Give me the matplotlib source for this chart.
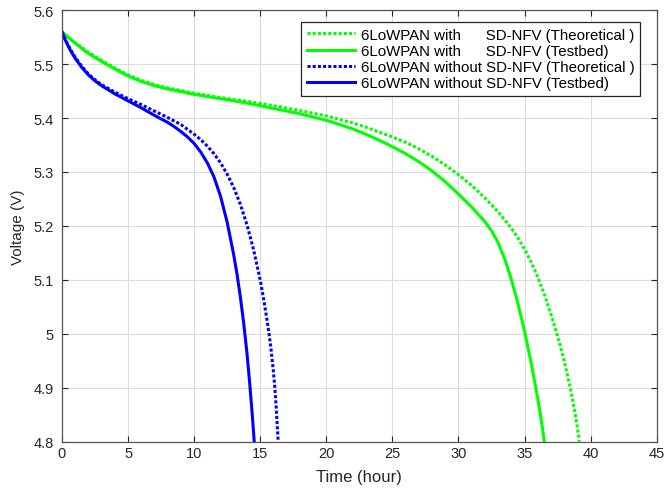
import matplotlib
matplotlib.use("Agg")
import matplotlib.pyplot as plt

plt.rcParams['font.family'] = ['Liberation Sans', 'DejaVu Sans']

# 6LoWPAN with SD-NFV (Theoretical)
t_with_theo = [0, 0.5, 1, 1.5, 2, 3, 4, 5, 6, 7, 8, 9, 10, 12, 14, 16, 18, 20, 22, 23, 24, 25,
               26, 27, 28, 29, 30, 31, 32, 33, 34, 34.5, 35, 35.5, 36, 36.5, 37, 37.5, 38,
               38.5, 38.8, 39.0, 39.15]
v_with_theo = [5.56, 5.55, 5.54, 5.531, 5.522, 5.507, 5.493, 5.48, 5.47, 5.462, 5.456, 5.451,
               5.446, 5.438, 5.431, 5.423, 5.414, 5.404, 5.391, 5.383, 5.374, 5.365,
               5.355, 5.343, 5.329, 5.313, 5.295, 5.275, 5.252, 5.226, 5.196, 5.178, 5.157,
               5.133, 5.105, 5.073, 5.036, 4.996, 4.95, 4.895, 4.856, 4.826, 4.80]

# 6LoWPAN with SD-NFV (Testbed)
t_with_test = [0, 0.5, 1, 1.5, 2, 3, 4, 5, 6, 7, 8, 9, 10, 12, 14, 16, 18, 20, 22, 23, 24, 25,
               26, 27, 28, 29, 30, 31, 32, 32.5, 33, 33.5, 34, 34.5, 35, 35.5, 36, 36.25, 36.5]
v_with_test = [5.56, 5.549, 5.539, 5.529, 5.52, 5.505, 5.491, 5.478, 5.468, 5.46, 5.454, 5.449,
               5.444, 5.436, 5.428, 5.418, 5.408, 5.396, 5.38, 5.37, 5.359, 5.347,
               5.334, 5.319, 5.302, 5.282, 5.259, 5.235, 5.208, 5.191, 5.169, 5.139, 5.101,
               5.056, 5.005, 4.946, 4.88, 4.843, 4.80]

# 6LoWPAN without SD-NFV (Theoretical)
t_without_theo = [0, 0.25, 0.5, 0.75, 1, 1.5, 2, 2.5, 3, 4, 5, 6, 7, 8, 9, 10, 10.5, 11, 11.5,
                  12, 12.5, 13, 13.5, 14, 14.5, 15, 15.25, 15.5, 15.7, 15.85, 16.0, 16.1, 16.2,
                  16.3, 16.36]
v_without_theo = [5.56, 5.546, 5.534, 5.523, 5.513, 5.496, 5.482, 5.471, 5.462, 5.448, 5.436,
                  5.425, 5.413, 5.401, 5.388, 5.37, 5.36, 5.348, 5.334, 5.317, 5.296, 5.271,
                  5.24, 5.202, 5.156, 5.10, 5.066, 5.028, 4.995, 4.965, 4.93, 4.902, 4.868,
                  4.826, 4.80]

# 6LoWPAN without SD-NFV (Testbed)
t_without_test = [0, 0.25, 0.5, 0.75, 1, 1.5, 2, 2.5, 3, 4, 5, 6, 7, 8, 8.5, 9, 9.5, 10, 10.5,
                  11, 11.5, 12, 12.5, 13, 13.25, 13.5, 13.75, 14.0, 14.2, 14.4, 14.55]
v_without_test = [5.56, 5.545, 5.532, 5.521, 5.511, 5.494, 5.48, 5.469, 5.46, 5.445, 5.432,
                  5.419, 5.405, 5.392, 5.384, 5.375, 5.365, 5.353, 5.337, 5.317, 5.291, 5.255,
                  5.207, 5.146, 5.11, 5.068, 5.02, 4.964, 4.91, 4.85, 4.80]

labels = ['6LoWPAN with      SD-NFV (Theoretical )',
          '6LoWPAN with      SD-NFV (Testbed)',
          '6LoWPAN without SD-NFV (Theoretical )',
          '6LoWPAN without SD-NFV (Testbed)']

green = '#00ff00'
blue = '#0000ff'
dots = (0, (1.0, 0.7))

fig = plt.figure(figsize=(6.66, 4.89), dpi=100)
ax = fig.add_axes([0.093, 0.095, 0.893, 0.882])

ax.plot(t_with_theo, v_with_theo, color=green, lw=2.2, ls=dots, label=labels[0])
ax.plot(t_with_test, v_with_test, color=green, lw=2.2, label=labels[1])
ax.plot(t_without_theo, v_without_theo, color=blue, lw=2.2, ls=dots, label=labels[2])
ax.plot(t_without_test, v_without_test, color=blue, lw=2.2, label=labels[3])

ax.set_xlim(0, 45)
ax.set_ylim(4.8, 5.6)
ax.set_xticks(range(0, 46, 5))
ax.set_yticks([4.8, 4.9, 5.0, 5.1, 5.2, 5.3, 5.4, 5.5, 5.6])
ax.set_yticklabels(['4.8', '4.9', '5', '5.1', '5.2', '5.3', '5.4', '5.5', '5.6'])
ax.grid(True, color='#dcdcdc', lw=0.8)
ax.tick_params(direction='in', length=4, top=True, right=True, labelsize=10.5,
               colors='#262626', width=0.8)
ax.tick_params(axis='y', pad=6)
for s in ax.spines.values():
    s.set_color('#555555')
    s.set_linewidth(0.9)

ax.set_xlabel('Time (hour)', fontsize=12, color='#262626', labelpad=6)
ax.set_ylabel('Voltage (V)', fontsize=11, color='#262626', labelpad=6)

leg = ax.legend(loc='upper right', bbox_to_anchor=(0.9714, 0.972), fontsize=10.8,
                handlelength=3.2, handletextpad=0.4, borderpad=0.35, labelspacing=0.15,
                fancybox=False, framealpha=1, edgecolor='#262626', borderaxespad=0)
leg.get_frame().set_linewidth(0.9)

fig.savefig('out.png', dpi=100)
